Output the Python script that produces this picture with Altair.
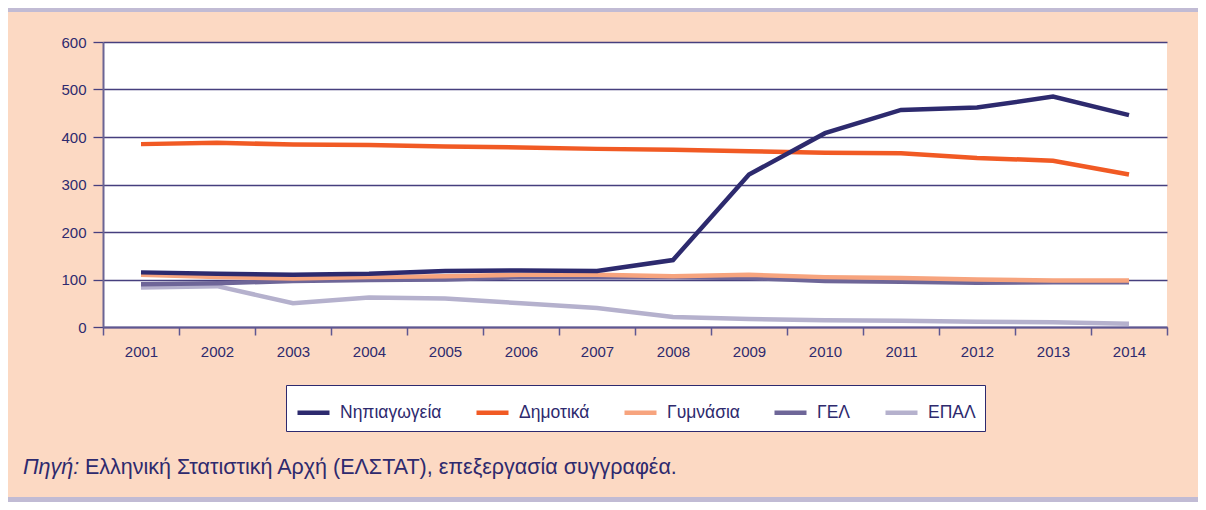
import altair as alt
import pandas as pd

years = [2001, 2002, 2003, 2004, 2005, 2006, 2007, 2008, 2009, 2010, 2011, 2012, 2013, 2014]
series_names = ["Νηπιαγωγεία", "Δημοτικά", "Γυμνάσια", "ΓΕΛ", "ΕΠΑΛ"]
series_colors = ["#2D2A6E", "#F15A24", "#F7A47E", "#6E6698", "#B5B1CD"]

nipiagogeia = [115, 112, 110, 112, 118, 119, 118, 141, 321, 408, 457, 462, 485, 446]
dimotika = [385, 388, 384, 383, 380, 378, 375, 373, 370, 367, 366, 356, 350, 321]
gymnasia = [110, 105, 102, 105, 107, 110, 110, 107, 110, 105, 103, 100, 98, 98]
gel = [90, 92, 97, 99, 100, 105, 105, 105, 103, 97, 95, 93, 94, 94]
epal = [83, 86, 50, 62, 60, 50, 40, 21, 17, 14, 13, 11, 10, 7]

y_ticks = [0, 100, 200, 300, 400, 500, 600]
source_label = "Πηγή:"
source_text = "Ελληνική Στατιστική Αρχή (ΕΛΣΤΑΤ), επεξεργασία συγγραφέα."

NAVY = "#2E2A6E"
LAV = "#C1BBD4"
FONT = "Liberation Sans"

# draw order: last series first so Νηπιαγωγεία is on top
rows = []
for name, vals in [("ΕΠΑΛ", epal), ("ΓΕΛ", gel), ("Γυμνάσια", gymnasia),
                   ("Δημοτικά", dimotika), ("Νηπιαγωγεία", nipiagogeia)]:
    for y, v in zip(years, vals):
        rows.append({"year": str(y), "series": name, "value": v})
df = pd.DataFrame(rows)

W, H = 1064, 285
one = alt.Data(values=[{"a": 1}])

top_strip = alt.Chart(one).mark_rect(color=LAV).encode(
    x=alt.value(-95), x2=alt.value(1095), y=alt.value(-34), y2=alt.value(-30)
)
bottom_strip = alt.Chart(one).mark_rect(color=LAV).encode(
    x=alt.value(-95), x2=alt.value(1095), y=alt.value(455), y2=alt.value(460)
)

lines = alt.Chart(df).mark_line(strokeWidth=4.5, strokeJoin="miter", strokeCap="butt").encode(
    x=alt.X("year:O", bandPosition=0.5,
            scale=alt.Scale(type="band", paddingInner=0, paddingOuter=0),
            axis=alt.Axis(title=None, labelAngle=0, tickBand="extent", grid=False,
                          tickSize=8, labelPadding=9, labelFontSize=15, labelFont=FONT,
                          labelColor=NAVY, domainColor="#5E5791", tickColor="#5E5791",
                          domainWidth=2, tickWidth=1.5)),
    y=alt.Y("value:Q", scale=alt.Scale(domain=[0, 600], nice=False),
            axis=alt.Axis(title=None, values=y_ticks, tickSize=10, labelPadding=7,
                          labelFontSize=15, labelFont=FONT, labelColor=NAVY,
                          grid=True, gridColor="#463F7E", gridWidth=1.3,
                          domainColor="#6B6494", domainWidth=2, tickColor="#463F7E",
                          tickWidth=1.3)),
    color=alt.Color("series:N",
                    scale=alt.Scale(domain=series_names, range=series_colors),
                    legend=alt.Legend(title=None, orient="none", legendX=183, legendY=343,
                                      direction="horizontal", columns=5,
                                      symbolType="stroke", symbolSize=1024,
                                      symbolStrokeWidth=4.5, labelOffset=8,
                                      columnPadding=25, labelFontSize=17.5, labelFont=FONT,
                                      labelColor=NAVY, padding=9, fillColor="#FFFFFF",
                                      strokeColor=NAVY, cornerRadius=0)),
)

src1 = alt.Chart(one).mark_text(text=source_label, fontStyle="italic", fontSize=21.5,
                                font=FONT, color=NAVY, align="left", baseline="alphabetic").encode(
    x=alt.value(-80), y=alt.value(432)
)
src2 = alt.Chart(one).mark_text(text=source_text, fontSize=21.5, font=FONT, color=NAVY,
                                align="left", baseline="alphabetic").encode(
    x=alt.value(-18), y=alt.value(432)
)

chart = alt.layer(top_strip, bottom_strip, lines, src1, src2).properties(
    width=W, height=H,
    padding={"left": 95, "top": 34, "right": 31, "bottom": 175},
    autosize=alt.AutoSizeParams(type="none"),
    background="#FCD9C3",
).configure_view(stroke=None, fill="#FFFFFF")

chart.save("out.html", embed_options={"renderer": "svg", "actions": False})
